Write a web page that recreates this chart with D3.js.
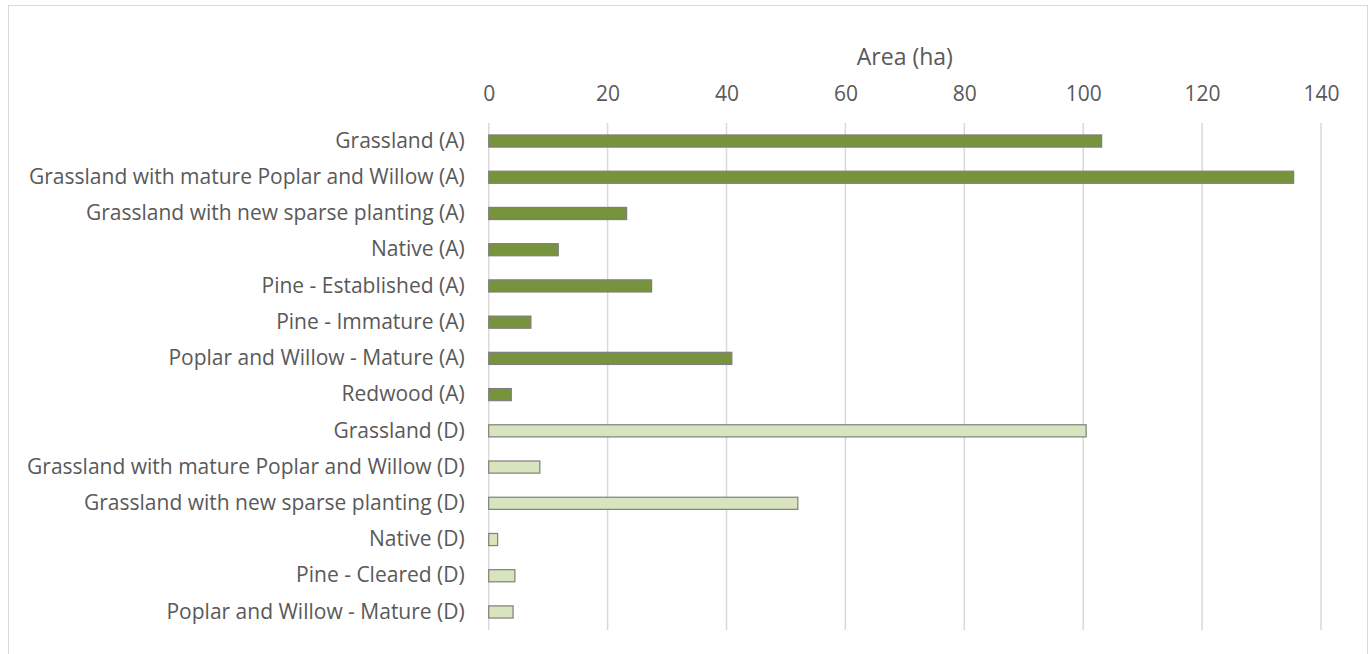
<!DOCTYPE html>
<html><head><meta charset="utf-8">
<script src="https://cdn.jsdelivr.net/npm/d3@7"></script>
<style>body{margin:0;background:#fff}svg{display:block}</style>
</head><body>
<script>
const categories = [
 "Grassland (A)",
 "Grassland with mature Poplar and Willow (A)",
 "Grassland with new sparse planting (A)",
 "Native (A)",
 "Pine - Established (A)",
 "Pine - Immature (A)",
 "Poplar and Willow - Mature  (A)",
 "Redwood (A)",
 "Grassland (D)",
 "Grassland with mature Poplar and Willow (D)",
 "Grassland with new sparse planting (D)",
 "Native (D)",
 "Pine - Cleared (D)",
 "Poplar and Willow - Mature (D)"
];
const values = [103.1, 135.4, 23.2, 11.7, 27.4, 7.1, 40.9, 3.8, 100.5, 8.6, 52.0, 1.5, 4.4, 4.1];
const groups = ["A","A","A","A","A","A","A","A","D","D","D","D","D","D"];
const xTicks = [0,20,40,60,80,100,120,140];
const axisTitle = "Area (ha)";

const W=1372,H=654;
const svg=d3.select("body").append("svg").attr("width",W).attr("height",H);
svg.append("rect").attr("x",8.5).attr("y",5.5).attr("width",1359).attr("height",660)
  .attr("fill","#fff").attr("stroke","#d9d9d9").attr("stroke-width",1);

const x=d3.scaleLinear().domain([0,140]).range([488.7,1321]);
const y=d3.scaleBand().domain(categories).range([123,630]).paddingInner(0.665).paddingOuter(0.33);
const font="'Open Sans', sans-serif";
const color={A:"#77933C",D:"#D7E4BD"};

svg.append("g").selectAll("line").data(xTicks).join("line")
  .attr("x1",d=>x(d)).attr("x2",d=>x(d)).attr("y1",123).attr("y2",630)
  .attr("stroke","#d9d9d9").attr("stroke-width",1.5);

const ax=svg.append("g").attr("transform","translate(0,100.5)")
  .call(d3.axisTop(x).tickValues(xTicks).tickSize(0).tickPadding(0));
ax.select(".domain").remove();
ax.selectAll("text").attr("dy",0).attr("font-family",font).attr("font-size",21).attr("fill","#595959");

svg.append("text").attr("x",x(70)).attr("y",65).attr("text-anchor","middle")
  .attr("font-family",font).attr("font-size",23).attr("fill","#595959").text(axisTitle);

svg.append("g").selectAll("rect").data(values).join("rect")
  .attr("x",x(0)).attr("y",(d,i)=>y(categories[i]))
  .attr("width",d=>x(d)-x(0)).attr("height",y.bandwidth())
  .attr("fill",(d,i)=>color[groups[i]]).attr("stroke","#7f7f7f").attr("stroke-width",1.2);

const ay=svg.append("g").attr("transform","translate("+(x(0)-24)+",0)")
  .call(d3.axisLeft(y).tickSize(0).tickPadding(0));
ay.select(".domain").remove();
ay.selectAll("text").attr("font-family",font).attr("font-size",21).attr("fill","#595959");
</script>
</body></html>
